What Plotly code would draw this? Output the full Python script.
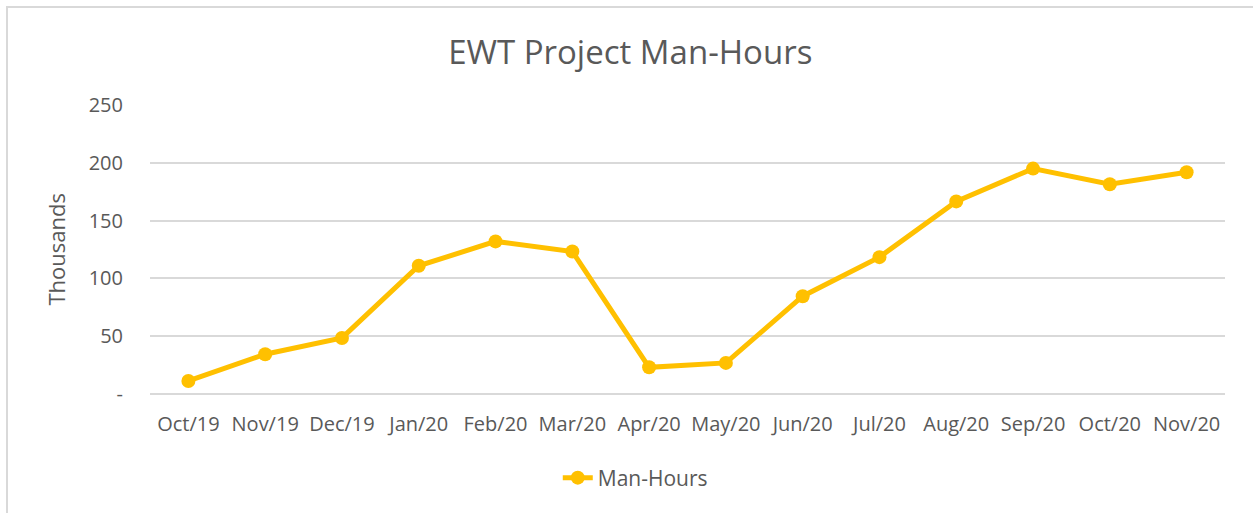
import plotly.graph_objects as go

months = ["Oct/19", "Nov/19", "Dec/19", "Jan/20", "Feb/20", "Mar/20", "Apr/20",
          "May/20", "Jun/20", "Jul/20", "Aug/20", "Sep/20", "Oct/20", "Nov/20"]
man_hours_k = [11.3, 34.4, 48.5, 110.9, 132.0, 123.3, 23.1,
               26.9, 84.6, 118.4, 166.6, 195.0, 181.4, 191.8]
y_tickvals = [0, 50, 100, 150, 200, 250]
y_ticktext = ["-", "50", "100", "150", "200", "250"]

FONT = "Open Sans"
GREY = "#595959"
GRID = "#D9D9D9"

fig = go.Figure()
fig.add_trace(go.Scatter(
    x=months, y=man_hours_k, mode="lines+markers", name="Man-Hours",
    line=dict(color="#FFC000", width=5),
    marker=dict(color="#FFC000", size=14),
))

fig.update_layout(
    width=1253, height=513,
    margin=dict(l=150, r=28, t=105, b=119),
    paper_bgcolor="white", plot_bgcolor="white",
    font=dict(family=FONT, color=GREY, size=20),
    title=dict(text="EWT Project Man-Hours", x=0.503, xref="container", xanchor="center",
               y=1 - 52 / 513, yref="container", yanchor="middle",
               font=dict(family=FONT, size=33, color=GREY)),
    showlegend=True,
    legend=dict(orientation="h", xref="container", yref="container",
                x=0.507, xanchor="center", y=1 - 478 / 513, yanchor="middle",
                font=dict(size=21, color=GREY)),
    xaxis=dict(type="category", range=[-0.5, 13.5], showgrid=False, showline=False,
               ticks="", ticklabelstandoff=16, tickfont=dict(size=20, color=GREY)),
    yaxis=dict(range=[0, 250], tickvals=y_tickvals, ticktext=y_ticktext,
               showgrid=True, gridcolor=GRID, gridwidth=1.5,
               zeroline=True, zerolinecolor=GRID, zerolinewidth=1.5,
               showline=False, ticks="", ticklabelstandoff=26,
               tickfont=dict(size=20, color=GREY)),
    annotations=[dict(text="Thousands", xref="paper", yref="paper",
                      x=(55 - 150) / 1075, y=0.5, textangle=-90, showarrow=False,
                      xanchor="center", yanchor="middle",
                      font=dict(size=22, color=GREY))],
    shapes=[dict(type="rect", xref="paper", yref="paper",
                 x0=(7 - 150) / 1075, x1=1.2, y0=-1.0, y1=(394 - 7) / 289,
                 line=dict(color=GRID, width=2), fillcolor="rgba(0,0,0,0)", layer="below")],
)

fig.write_html("out.html", config={"displayModeBar": False},
               post_script="document.body.style.margin='0';document.body.style.overflow='hidden';")
